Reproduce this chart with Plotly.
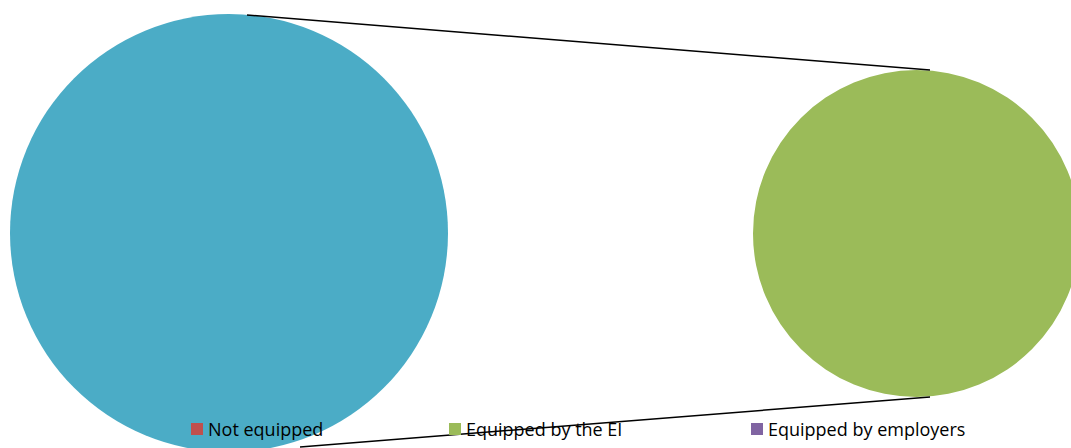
import math
import plotly.graph_objects as go

# Equipment breakdown (share of respondents, %)
categories = ["Not equipped", "Equipped by the EI", "Equipped by employers"]
values = [0, 100, 0]
split_from = 1  # categories from this index go to the secondary pie
other_label = "Other"

colors = {"Not equipped": "#C0504D", "Equipped by the EI": "#9BBB59",
          "Equipped by employers": "#8064A2", "Other": "#4BACC6"}

W, H = 1085, 470

def px_x(x):
    return x / W

def px_y(y):
    return (H - y) / H

# main pie: non-split categories plus the combined slice
main_labels = categories[:split_from] + [other_label]
main_values = values[:split_from] + [sum(values[split_from:])]
sec_labels = categories[split_from:]
sec_values = values[split_from:]

main_c, main_r = (229, 233), 219
sec_c, sec_r = (916.5, 233.5), 163.5

def dom(c, r):
    return dict(x=[px_x(c[0] - r), px_x(c[0] + r)],
                y=[px_y(c[1] + r), px_y(c[1] - r)])

fig = go.Figure()
fig.add_trace(go.Pie(labels=main_labels, values=main_values, sort=False,
                     direction="clockwise", rotation=0,
                     marker=dict(colors=[colors[l] for l in main_labels]),
                     textinfo="none", hoverinfo="label+percent",
                     showlegend=False, domain=dom(main_c, main_r)))
fig.add_trace(go.Pie(labels=sec_labels, values=sec_values, sort=False,
                     direction="clockwise", rotation=0,
                     marker=dict(colors=[colors[l] for l in sec_labels]),
                     textinfo="none", hoverinfo="label+percent",
                     showlegend=False, domain=dom(sec_c, sec_r)))

# connector lines between the combined slice and the secondary pie
connectors = [((247, 15), (930, 70)), ((300, 447), (930, 397))]
shapes = []
for (x0, y0), (x1, y1) in connectors:
    shapes.append(dict(type="line", xref="paper", yref="paper",
                       x0=px_x(x0), y0=px_y(y0), x1=px_x(x1), y1=px_y(y1),
                       line=dict(color="black", width=1.5)))

# legend row
legend_x = [191, 449, 751]
legend_y = 429
annotations = []
for name, lx in zip(categories, legend_x):
    shapes.append(dict(type="rect", xref="paper", yref="paper",
                       x0=px_x(lx), x1=px_x(lx + 12),
                       y0=px_y(legend_y + 6), y1=px_y(legend_y - 6),
                       fillcolor=colors[name], line=dict(width=0)))
    annotations.append(dict(text=name, xref="paper", yref="paper",
                            x=px_x(lx + 15), y=px_y(legend_y),
                            xanchor="left", yanchor="middle", showarrow=False,
                            font=dict(family="Open Sans", size=18, color="black")))

fig.update_layout(width=W, height=H, margin=dict(l=0, r=0, t=0, b=0),
                  paper_bgcolor="white", plot_bgcolor="white",
                  shapes=shapes, annotations=annotations, showlegend=False)

fig.write_html("out.html",
               post_script="document.body.style.margin='0';document.body.style.overflow='hidden';document.documentElement.style.overflow='hidden';")
